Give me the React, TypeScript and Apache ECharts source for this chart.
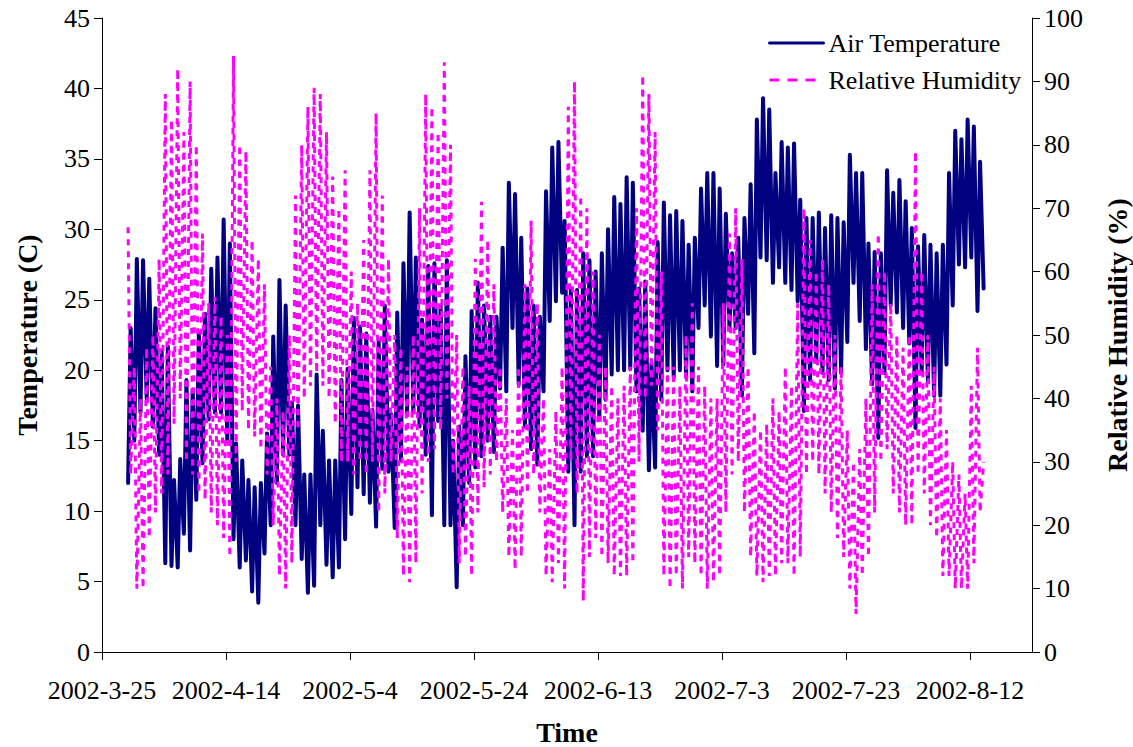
import React, { useEffect, useRef } from "react";
import * as echarts from "echarts";

// Day 0 of the time axis is 2002-03-25; readings start on day 4 (2002-03-29).
const axisStartUtc = Date.UTC(2002, 2, 25);
const firstDay = 4;
const axisDays = { min: 0, max: 150, step: 20 };

// Daily morning minimum / afternoon maximum of air temperature (C)
const tempLow = [
  12, 15, 17, 18, 16, 14, 6.3, 6.1, 6.0, 8.4,
  7.2, 10.8, 13.4, 16.5, 17, 17, 15, 8, 6.0, 6.5,
  4.3, 3.5, 7, 9, 12, 14, 14, 9, 6.6, 4.2,
  4.7, 9, 6.2, 5.3, 6.0, 8, 9.8, 11.7, 11.2, 10.6,
  8.9, 13, 12.8, 8.8, 13.6, 17, 17, 16, 14, 9.7,
  16.4, 9.0, 9.0, 4.6, 9, 12, 13.1, 13.9, 15, 14.2,
  18.7, 18.5, 23, 19, 16, 14.4, 13.3, 18.5, 23.5, 24.9,
  25.5, 12.8, 9.0, 12.8, 13.9, 13.9, 16.5, 17.9, 19.7, 20.0,
  20, 20.1, 18.5, 15.7, 12.9, 13.1, 17.9, 20, 19.5, 20.0,
  19.5, 18.5, 23, 24.6, 22.4, 20.3, 20.4, 23, 23.0, 18.2,
  24.0, 21.2, 28.0, 27.8, 26.2, 27.3, 26.2, 25.7, 24.9, 17.1,
  19.3, 20.6, 19.8, 19.3, 18.7, 19.8, 22, 26.2, 23.5, 21.5,
  19, 15.2, 19.8, 24.6, 24.1, 23.0, 21.9, 15.9, 19.8, 19.3,
  18.2, 18.2, 20.4, 24.6, 27.5, 27.3, 28.0, 24.2,
];
const tempHigh = [
  23, 27.9, 27.8, 26.5, 24.4, 21.4, 21.7, 12.2, 13.7, 19.3,
  18.6, 22.6, 24, 27.2, 28.0, 30.7, 29.0, 14.8, 13.6, 12.2,
  11.7, 12, 15.5, 22.4, 26.4, 24.6, 17.7, 17.5, 12.6, 12.6,
  19.7, 15.7, 13.6, 13.6, 19.3, 20.1, 23.7, 23.1, 22.6, 17.2,
  22.0, 24.6, 16.9, 24.1, 27.6, 31.2, 28.0, 23.6, 27.4, 27.6,
  24.6, 27.8, 15, 16.0, 21.0, 24.2, 26.2, 24.6, 23.8, 23.8,
  28.7, 33.3, 32.5, 29.4, 25.8, 24.6, 23.8, 32.7, 35.8, 36.2,
  30.6, 25.7, 25.7, 28.3, 27.8, 27.0, 28.3, 30.0, 32.3, 31.8,
  33.7, 33.3, 25.8, 26.3, 20.5, 29.1, 31.9, 31.0, 31.3, 30.6,
  28.9, 29.4, 32.9, 34.0, 34.0, 32.9, 31.1, 28.3, 29.4, 30.8,
  33.2, 37.8, 39.3, 38.5, 34.0, 36.2, 35.8, 36.1, 32.1, 30.8,
  30.8, 31.2, 30.1, 31.0, 30.8, 30.5, 35.3, 34.0, 34.0, 29.0,
  28.4, 28.3, 34.2, 32.6, 33.5, 32.0, 30.1, 28.8, 29.6, 28.9,
  28.3, 28.9, 34.0, 37.0, 36.4, 37.8, 37.3, 34.8,
];

// Daily morning maximum / afternoon minimum of relative humidity (%)
const rhHigh = [
  67, 45, 40, 48, 50, 62, 88, 84, 92, 82,
  90, 80, 66, 55, 56, 53, 50, 94, 80, 79,
  65, 62, 58, 45, 40, 38, 50, 72, 80, 86,
  89, 88, 82, 75, 70, 76, 60, 55, 65, 76,
  85, 72, 62, 50, 48, 45, 50, 70, 88, 86,
  82, 93, 80, 50, 45, 42, 62, 71, 65, 58,
  45, 40, 35, 45, 58, 68, 55, 40, 32, 38,
  45, 86, 90, 72, 70, 60, 50, 45, 42, 40,
  42, 45, 70, 91, 88, 82, 60, 45, 45, 42,
  50, 55, 45, 42, 40, 40, 55, 66, 70, 62,
  45, 38, 35, 36, 40, 38, 45, 42, 55, 70,
  65, 60, 62, 58, 50, 45, 35, 30, 32, 40,
  58, 66, 60, 55, 50, 48, 50, 79, 60, 50,
  45, 40, 35, 30, 28, 25, 42, 48,
];
const rhLow = [
  28, 10, 10, 18, 22, 25, 28, 36, 40, 30,
  28, 25, 24, 22, 20, 18, 15, 30, 38, 35,
  34, 32, 28, 20, 12, 10, 14, 35, 40, 42,
  44, 42, 40, 36, 30, 30, 28, 30, 28, 30,
  22, 25, 30, 18, 12, 11, 14, 25, 30, 32,
  35, 40, 28, 14, 15, 12, 22, 26, 28, 30,
  22, 15, 13, 15, 25, 28, 22, 12, 11, 14,
  10, 30, 25, 8, 15, 18, 15, 14, 12, 12,
  12, 14, 30, 40, 42, 35, 12, 10, 12, 10,
  15, 14, 12, 10, 11, 12, 22, 28, 30, 22,
  15, 12, 11, 12, 12, 14, 14, 12, 15, 28,
  30, 28, 25, 22, 18, 15, 10, 6, 12, 15,
  22, 30, 32, 25, 22, 20, 20, 28, 25, 20,
  18, 12, 12, 10, 10, 10, 14, 22,
];

// Final reading on 2002-08-14
const lastReading = { day: 142.2, temp: 25.8, rh: 30 };

// Fractions of a day at which the morning and afternoon readings fall
const morning = 0.21;
const afternoon = 0.62;

const serif = "Liberation Serif, Times New Roman, serif";
const navy = "#000080";
const magenta = "#ff00ff";

function dayLabel(v: number): string {
  const d = new Date(axisStartUtc + v * 86400000);
  return `${d.getUTCFullYear()}-${d.getUTCMonth() + 1}-${d.getUTCDate()}`;
}

export default function App() {
  const ref = useRef<HTMLDivElement>(null);

  useEffect(() => {
    if (!ref.current) return;
    const chart = echarts.init(ref.current, undefined, { renderer: "svg" });

    const tempData: number[][] = [];
    const rhData: number[][] = [];
    tempLow.forEach((lo, i) => {
      const day = firstDay + i;
      tempData.push([day + morning, lo], [day + afternoon, tempHigh[i]]);
      rhData.push([day + morning, rhHigh[i]], [day + afternoon, rhLow[i]]);
    });
    tempData.push([lastReading.day, lastReading.temp]);
    rhData.push([lastReading.day, lastReading.rh]);

    const axisLine = { show: true, lineStyle: { color: "#000", width: 1 } };
    const axisTick = { show: true, length: 8, lineStyle: { color: "#000", width: 1 } };
    const labelStyle = { color: "#000", fontFamily: serif, fontSize: 26 };
    const nameStyle = { color: "#000", fontFamily: serif, fontSize: 28, fontWeight: "bold" as const };

    chart.setOption({
      animation: false,
      backgroundColor: "#fff",
      grid: {
        left: 102,
        right: 101,
        top: 18,
        bottom: 95,
        containLabel: false,
        outerBoundsMode: "none",
      },
      legend: {
        orient: "vertical",
        left: 763,
        top: 25,
        itemWidth: 54,
        itemHeight: 14,
        itemGap: 11,
        itemStyle: { opacity: 0 },
        textStyle: { color: "#000", fontFamily: serif, fontSize: 26 },
        data: [
          { name: "Air Temperature", lineStyle: { width: 3 } },
          { name: "Relative Humidity", lineStyle: { width: 3, type: [10, 8] } },
        ],
      },
      xAxis: {
        type: "value",
        min: axisDays.min,
        max: axisDays.max,
        interval: axisDays.step,
        axisLine,
        axisTick,
        splitLine: { show: false },
        axisLabel: { ...labelStyle, margin: 25, formatter: dayLabel },
        name: "Time",
        nameLocation: "middle",
        nameGap: 66,
        nameTextStyle: nameStyle,
      },
      yAxis: [
        {
          type: "value",
          position: "left",
          min: 0,
          max: 45,
          interval: 5,
          axisLine,
          axisTick,
          splitLine: { show: false },
          axisLabel: { ...labelStyle, margin: 12 },
          name: "Temperature (C)",
          nameLocation: "middle",
          nameRotate: 90,
          nameGap: 61,
          nameTextStyle: nameStyle,
        },
        {
          type: "value",
          position: "right",
          min: 0,
          max: 100,
          interval: 10,
          axisLine,
          axisTick,
          splitLine: { show: false },
          axisLabel: { ...labelStyle, margin: 12 },
          name: "Relative Humidity (%)",
          nameLocation: "middle",
          nameRotate: 90,
          nameGap: 71,
          nameTextStyle: nameStyle,
        },
      ],
      series: [
        {
          name: "Air Temperature",
          type: "line",
          yAxisIndex: 0,
          data: tempData,
          symbol: "none",
          color: navy,
          lineStyle: { color: navy, width: 4, join: "round", cap: "round" },
        },
        {
          name: "Relative Humidity",
          type: "line",
          yAxisIndex: 1,
          data: rhData,
          symbol: "none",
          color: magenta,
          lineStyle: { color: magenta, width: 3, type: [6, 6] },
        },
      ],
    });

    return () => chart.dispose();
  }, []);

  return (
    <div
      ref={ref}
      style={{ position: "fixed", left: 0, top: 0, width: 1133, height: 747, background: "#fff" }}
    />
  );
}
